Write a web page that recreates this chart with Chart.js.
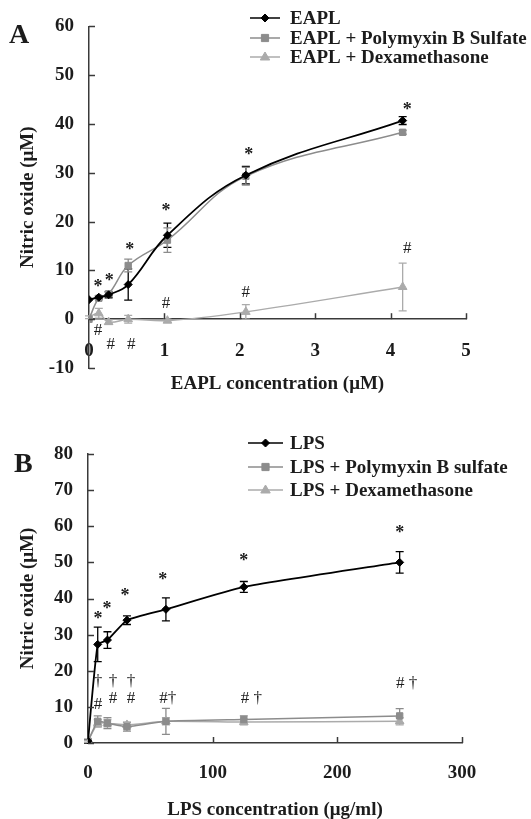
<!DOCTYPE html>
<html><head><meta charset="utf-8">
<script src="https://cdn.jsdelivr.net/npm/chart.js@4.4.0/dist/chart.umd.min.js"></script>
<style>
html,body{margin:0;padding:0;background:#fff;}
#wrap{position:relative;width:531px;height:819px;overflow:hidden;background:#fff;}
canvas{position:absolute;left:0;}
</style></head><body>
<div id="wrap">
<canvas id="cA" width="531" height="400" style="top:0"></canvas>
<canvas id="cB" width="531" height="419" style="top:400px"></canvas>
</div>
<script>
// ---------- Panel A data ----------
const xA = [0, 0.13, 0.26, 0.52, 1.04, 2.08, 4.16];
const eapl = [4.0, 4.5, 5.0, 7.1, 17.2, 29.5, 40.7];
const eaplErr = [0, 0.3, 0.6, 3.2, 2.5, 1.8, 0.8];
const eaplPoly = [0, 4.3, 5.2, 11.0, 16.2, 29.3, 38.3];
const eaplPolyErr = [0, 0.3, 0.5, 1.3, 2.5, 1.8, 0.4];
const eaplDexa = [0.4, 1.2, -0.6, 0.0, -0.3, 1.5, 6.6];
const eaplDexaErr = [0.3, 1.0, 0.4, 0.8, 0.3, 1.5, 4.9];
const seriesNamesA = ['EAPL', 'EAPL + Polymyxin B Sulfate', 'EAPL + Dexamethasone'];
const yTicksA = {min: -10, max: 60, step: 10};
const xTicksA = {min: 0, max: 5, step: 1};
const notesA = [
  [0.12, 7.5, '*'], [0.27, 8.6, '*'], [0.54, 14.9, '*'], [1.02, 22.9, '*'], [2.12, 34.5, '*'], [4.22, 43.7, '*'],
  [1.02, 3.5, '#'], [2.08, 5.7, '#'], [4.22, 14.7, '#'],
  [0.12, -2.0, '#'], [0.29, -4.9, '#'], [0.56, -4.9, '#']
];
// ---------- Panel B data ----------
const xB = [0, 7.8, 15.6, 31.25, 62.5, 125, 250];
const lps = [0.5, 27.3, 28.5, 34.0, 37.0, 43.2, 50.0];
const lpsErr = [0.5, 4.8, 2.3, 1.2, 3.2, 1.5, 3.0];
const lpsPoly = [0.5, 6.0, 5.5, 4.5, 6.0, 6.5, 7.5];
const lpsPolyErr = [0.3, 1.5, 1.5, 1.2, 3.6, 1.0, 2.0];
const lpsDexa = [0.5, 5.5, 5.5, 5.0, 6.0, 5.8, 6.0];
const lpsDexaErr = [0.3, 1.0, 1.0, 0.8, 1.0, 0.8, 1.0];
const seriesNamesB = ['LPS', 'LPS + Polymyxin B sulfate', 'LPS + Dexamethasone'];
const yTicksB = {min: 0, max: 80, step: 10};
const xTicksB = {min: 0, max: 300, step: 100};
const notesB = [
  [8, 35.5, '*'], [15.2, 38.2, '*'], [29.6, 41.8, '*'], [60, 46.3, '*'], [125, 51.5, '*'], [250, 59.3, '*'],
  [8, 17.5, '†'], [8, 11.1, '#'], [20, 17.5, '†'], [20, 12.7, '#'], [34.5, 17.5, '†'], [34.5, 12.7, '#'],
  [64, 12.7, '#†'], [131, 12.7, '# †'], [255.6, 16.9, '# †']
];

const SERIF = "'Liberation Serif','Times New Roman',serif";
const INK = '#1c1c1c';
const AXIS = '#3a3a3a';

function drawMarker(ctx, style, x, y, r, color) {
  ctx.save();
  ctx.fillStyle = color; ctx.strokeStyle = color; ctx.lineWidth = 1;
  ctx.beginPath();
  if (style === 'rectRot') {
    ctx.moveTo(x, y - r); ctx.lineTo(x + r, y); ctx.lineTo(x, y + r); ctx.lineTo(x - r, y);
  } else if (style === 'rect') {
    ctx.rect(x - r * 0.8, y - r * 0.8, r * 1.6, r * 1.6);
  } else {
    ctx.moveTo(x, y - r); ctx.lineTo(x + r * 0.95, y + r * 0.6); ctx.lineTo(x - r * 0.95, y + r * 0.6);
  }
  ctx.closePath(); ctx.fill(); ctx.stroke();
  ctx.restore();
}

function makeDecor(o) {
  return {
    id: 'decor' + o.key,
    beforeDatasetsDraw(chart) {
      const ctx = chart.ctx, xs = chart.scales.x, ys = chart.scales.y;
      ctx.save();
      chart.data.datasets.forEach((ds, i) => {
        const errs = o.errors[i];
        ctx.strokeStyle = ds.borderColor; ctx.lineWidth = 1.3;
        ds.data.forEach((p, j) => {
          const e = errs[j]; if (!e) return;
          const px = xs.getPixelForValue(p.x);
          const t = ys.getPixelForValue(p.y + e), b = ys.getPixelForValue(p.y - e);
          ctx.beginPath();
          ctx.moveTo(px, t); ctx.lineTo(px, b);
          ctx.moveTo(px - 4, t); ctx.lineTo(px + 4, t);
          ctx.moveTo(px - 4, b); ctx.lineTo(px + 4, b);
          ctx.stroke();
        });
      });
      ctx.restore();
    },
    afterDraw(chart) {
      const ctx = chart.ctx, xs = chart.scales.x, ys = chart.scales.y, ca = chart.chartArea;
      ctx.save();
      // inward tick marks
      ctx.strokeStyle = AXIS; ctx.lineWidth = 1.5;
      ys.ticks.forEach(t => {
        const y = Math.round(ys.getPixelForValue(t.value)) + 0.5;
        ctx.beginPath(); ctx.moveTo(ca.left, y); ctx.lineTo(ca.left + 6, y); ctx.stroke();
      });
      const y0 = ys.getPixelForValue(0);
      xs.ticks.forEach(t => {
        if (t.value === 0) return;
        const x = Math.round(xs.getPixelForValue(t.value)) + 0.5;
        ctx.beginPath(); ctx.moveTo(x, y0); ctx.lineTo(x, y0 - 6); ctx.stroke();
      });
      // annotations
      ctx.fillStyle = INK; ctx.textAlign = 'center'; ctx.textBaseline = 'alphabetic';
      o.notes.forEach(([vx, vy, s]) => {
        const px = xs.getPixelForValue(vx), py = ys.getPixelForValue(vy);
        if (s === '*') { ctx.font = 'bold 18px ' + SERIF; ctx.fillText(s, px, py + 9); }
        else { ctx.font = '17px ' + SERIF; ctx.fillText(s, px, py + 6); }
      });
      // legend
      ctx.font = 'bold 19px ' + SERIF;
      ctx.textAlign = 'left'; ctx.textBaseline = 'middle';
      chart.data.datasets.forEach((ds, i) => {
        const ly = o.legend.y[i];
        ctx.strokeStyle = ds.borderColor; ctx.lineWidth = 1.5;
        ctx.beginPath(); ctx.moveTo(o.legend.x0, ly); ctx.lineTo(o.legend.x1, ly); ctx.stroke();
        drawMarker(ctx, ds.pointStyle, (o.legend.x0 + o.legend.x1) / 2, ly, ds.pointRadius, ds.borderColor);
        ctx.fillStyle = INK;
        ctx.fillText(ds.label, o.legend.tx, ly + 1);
      });
      // axis titles
      ctx.font = 'bold 19px ' + SERIF;
      ctx.textAlign = 'center'; ctx.textBaseline = 'middle'; ctx.fillStyle = INK;
      ctx.fillText(o.xTitle, (ca.left + ca.right) / 2, o.xTitleY);
      ctx.save();
      ctx.translate(o.yTitleX, (ca.top + ca.bottom) / 2 + o.yTitleDy);
      ctx.rotate(-Math.PI / 2);
      ctx.fillText(o.yTitle, 0, 0);
      ctx.restore();
      // panel letter
      ctx.font = 'bold 28px ' + SERIF; ctx.textAlign = 'left'; ctx.textBaseline = 'alphabetic';
      ctx.fillText(o.letter, o.letterX, o.letterY);
      ctx.restore();
    }
  };
}

function build(canvasId, o) {
  const colors = ['#000000', '#8c8c8c', '#ababab'];
  const styles = ['rectRot', 'rect', 'triangle'];
  const radii = [4, 4.5, 5];
  const widths = [1.8, 1.5, 1.5];
  const datasets = o.series.map((vals, i) => ({
    label: o.names[i],
    data: o.xs.map((x, j) => ({x: x, y: vals[j]})),
    borderColor: colors[i], backgroundColor: colors[i],
    pointBackgroundColor: colors[i], pointBorderColor: colors[i],
    pointStyle: styles[i], pointRadius: radii[i], pointBorderWidth: 1,
    borderWidth: widths[i], tension: o.tension, fill: false
  }));
  const tickFont = {family: SERIF, size: 19, weight: 'bold'};
  return new Chart(document.getElementById(canvasId), {
    type: 'line',
    data: {datasets},
    options: {
      responsive: false, animation: false, devicePixelRatio: 1,
      layout: {padding: o.padding},
      plugins: {legend: {display: false}, tooltip: {enabled: false}},
      scales: {
        x: {
          type: 'linear', position: {y: 0},
          min: o.xt.min, max: o.xt.max,
          ticks: {stepSize: o.xt.step, font: tickFont, color: INK, padding: o.xPad, maxRotation: 0},
          grid: {display: false, drawTicks: false},
          border: {display: true, color: AXIS, width: 1.5},
          afterFit(s) { s.height = 0; }
        },
        y: {
          type: 'linear', position: 'left',
          min: o.yt.min, max: o.yt.max,
          ticks: {stepSize: o.yt.step, font: tickFont, color: INK, padding: 15},
          grid: {display: false, drawTicks: false},
          border: {display: true, color: AXIS, width: 1.5},
          afterFit(s) { s.width = o.yWidth; }
        }
      }
    },
    plugins: [makeDecor(o)]
  });
}

build('cA', {
  key: 'A', xs: xA, series: [eapl, eaplPoly, eaplDexa], errors: [eaplErr, eaplPolyErr, eaplDexaErr],
  names: seriesNamesA, yt: yTicksA, xt: xTicksA, notes: notesA, tension: 0.4,
  padding: {left: 0, right: 65, top: 25, bottom: 32}, yWidth: 89, xPad: 20,
  legend: {x0: 250, x1: 280, tx: 290, y: [18, 38, 57]},
  xTitle: 'EAPL concentration (μM)', xTitleY: 384,
  yTitle: 'Nitric oxide (μM)', yTitleX: 28, yTitleDy: 0,
  letter: 'A', letterX: 9, letterY: 43
});
build('cB', {
  key: 'B', xs: xB, series: [lps, lpsPoly, lpsDexa], errors: [lpsErr, lpsPolyErr, lpsDexaErr],
  names: seriesNamesB, yt: yTicksB, xt: xTicksB, notes: notesB, tension: 0.15,
  padding: {left: 0, right: 69, top: 54, bottom: 76}, yWidth: 88, xPad: 19,
  legend: {x0: 248, x1: 283, tx: 290, y: [43, 67, 90]},
  xTitle: 'LPS concentration (μg/ml)', xTitleY: 410,
  yTitle: 'Nitric oxide (μM)', yTitleX: 28, yTitleDy: 0,
  letter: 'B', letterX: 14, letterY: 72
});
</script>
</body></html>
